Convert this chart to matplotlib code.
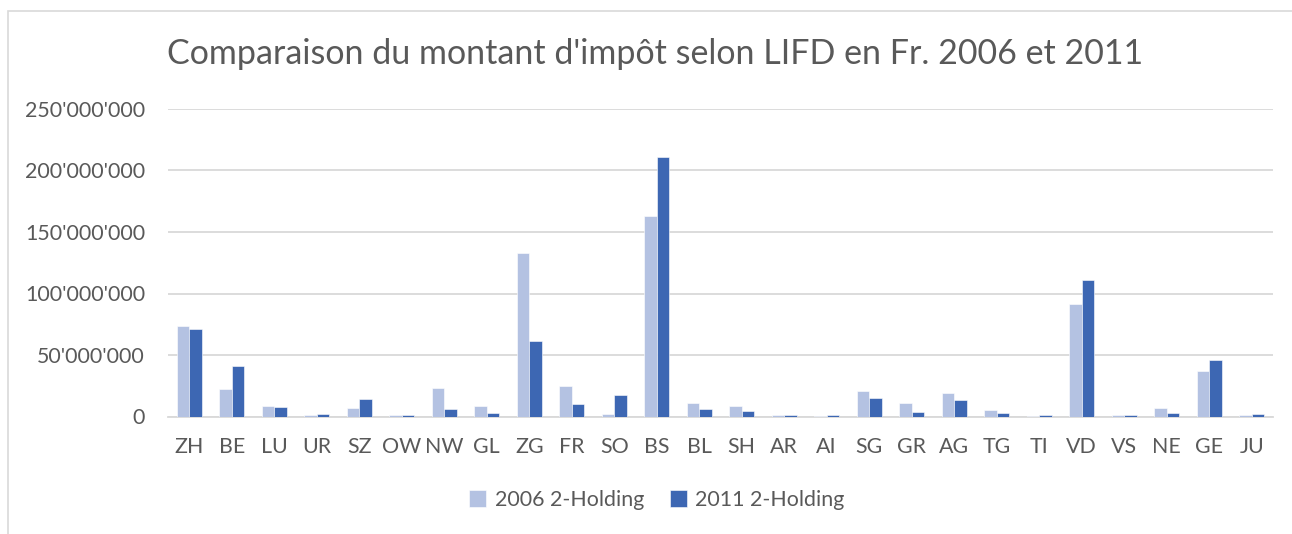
import numpy as np
import matplotlib
matplotlib.use("Agg")
import matplotlib.pyplot as plt
from matplotlib.ticker import FuncFormatter, MultipleLocator
from matplotlib.patches import Rectangle

# cantons and tax amounts (Fr.)
cantons = ["ZH", "BE", "LU", "UR", "SZ", "OW", "NW", "GL", "ZG", "FR", "SO", "BS", "BL",
           "SH", "AR", "AI", "SG", "GR", "AG", "TG", "TI", "VD", "VS", "NE", "GE", "JU"]
y2006 = [73.8e6, 22.7e6, 8.8e6, 1.2e6, 7.0e6, 1.0e6, 23.5e6, 8.8e6, 132.8e6, 25.2e6, 2.0e6,
         162.8e6, 10.9e6, 8.8e6, 1.4e6, 0.3e6, 21.0e6, 10.7e6, 18.9e6, 4.9e6, 0.2e6, 91.6e6,
         1.0e6, 7.1e6, 36.9e6, 1.6e6]
y2011 = [71.0e6, 41.2e6, 7.4e6, 2.2e6, 14.3e6, 1.0e6, 6.0e6, 3.0e6, 61.5e6, 10.4e6, 17.8e6,
         211.2e6, 5.7e6, 4.7e6, 1.0e6, 1.0e6, 15.3e6, 3.8e6, 13.7e6, 3.0e6, 1.0e6, 111.2e6,
         1.0e6, 2.7e6, 45.9e6, 1.9e6]
labels = ["2006 2-Holding", "2011 2-Holding"]

light = "#b4c2e2"
dark = "#3d67b3"
txt = "#595959"
plt.rcParams['font.family'] = ['Lato', 'DejaVu Sans']

fig = plt.figure(figsize=(12.92, 5.34), dpi=100)
fig.patches.append(Rectangle((8/1292, -0.02), 1.1, 1 - 11/534 + 0.02, transform=fig.transFigure,
                             fill=False, edgecolor="#d9d9d9", linewidth=1.2))
ax = fig.add_axes([168/1292, 1 - 416.5/534, (1273 - 168)/1292, (416.5 - 109)/534])

x = np.arange(len(cantons))
w = 0.29
ax.bar(x - w/2, y2006, w, color=light, label=labels[0], edgecolor="white", linewidth=0.4, zorder=3)
ax.bar(x + w/2, y2011, w, color=dark, label=labels[1], edgecolor="white", linewidth=0.4, zorder=3)

ax.set_xlim(-0.5, len(cantons) - 0.5)
ax.set_ylim(0, 250e6)
ax.yaxis.set_major_locator(MultipleLocator(50e6))
ax.yaxis.set_major_formatter(FuncFormatter(lambda v, p: f"{int(v):,}".replace(",", "'")))
ax.set_xticks(x)
ax.set_xticklabels(cantons)
ax.grid(axis="y", color="#d9d9d9", linewidth=1.3, zorder=0)
for s in ["top", "right", "left"]:
    ax.spines[s].set_visible(False)
ax.spines["bottom"].set_color("#d9d9d9")
ax.spines["bottom"].set_linewidth(1.3)
ax.tick_params(axis="both", length=0, labelsize=15.4, colors=txt)
ax.tick_params(axis="y", pad=16.5)
ax.tick_params(axis="x", pad=15)

fig.text(655/1292, 1 - 54/534, "Comparaison du montant d'impôt selon LIFD en Fr. 2006 et 2011",
         ha="center", va="center", fontsize=24.5, color=txt)

ax.legend(loc="center", bbox_to_anchor=(657/1292, 1 - 500/534), bbox_transform=fig.transFigure,
          ncol=2, frameon=False, fontsize=15.4, labelcolor=txt, handlelength=0.8, handleheight=0.8,
          handletextpad=0.4, columnspacing=1.2)

fig.savefig("out.png", dpi=100)
